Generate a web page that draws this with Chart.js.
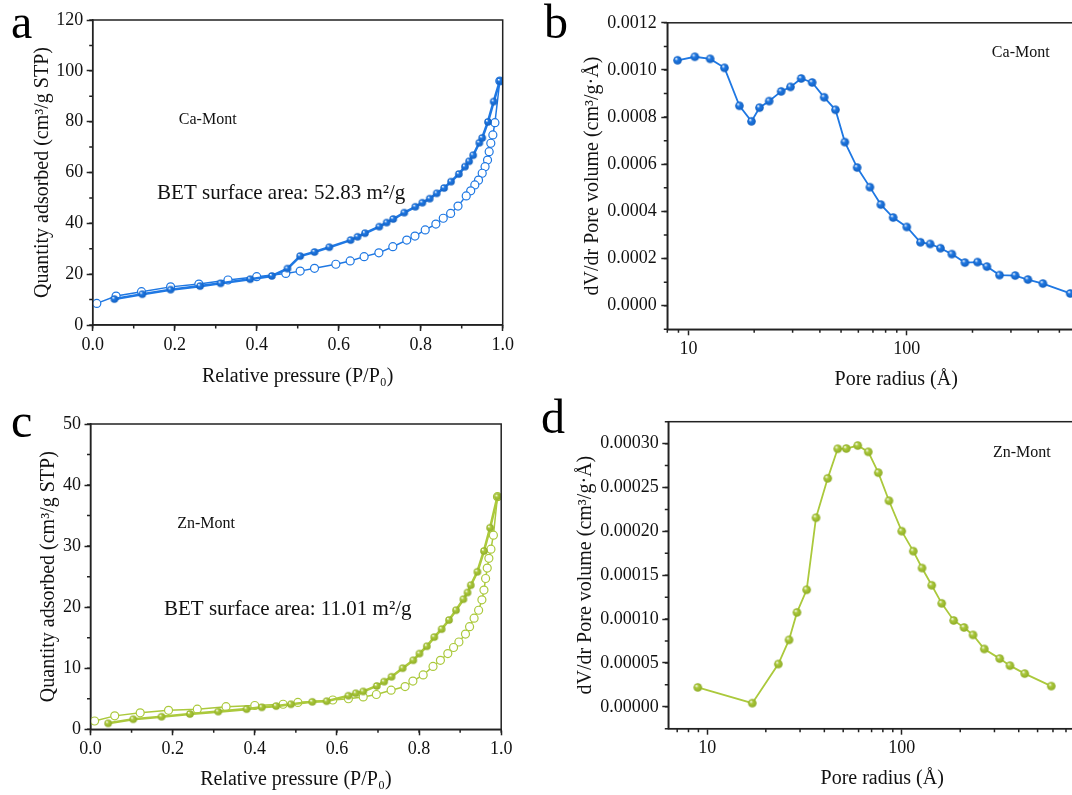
<!DOCTYPE html>
<html>
<head>
<meta charset="utf-8">
<script src="https://cdn.jsdelivr.net/npm/chart.js@4.4.1/dist/chart.umd.min.js"></script>
<style>
  html, body { margin: 0; padding: 0; background: #fff; width: 1072px; height: 795px; overflow: hidden; }
  canvas { position: absolute; }
  .tag { position: absolute; font-family: "Liberation Serif", serif; font-size: 48px; line-height: 1; color: #000; }
</style>
</head>
<body>
<canvas id="chartA" width="520" height="395" style="left:0;top:0"></canvas>
<canvas id="chartB" width="600" height="395" style="left:540px;top:0"></canvas>
<canvas id="chartC" width="520" height="395" style="left:0;top:400px"></canvas>
<canvas id="chartD" width="575" height="395" style="left:540px;top:400px"></canvas>
<div class="tag" style="left:11px;top:-2px">a</div>
<div class="tag" style="left:544px;top:-2px">b</div>
<div class="tag" style="left:11px;top:397px">c</div>
<div class="tag" style="left:541px;top:393px">d</div>
<script>
// --- данные ---

// a: Ca-Mont, изотерма (адсорбция / десорбция)
const caAdsP = [0.053, 0.121, 0.190, 0.262, 0.312, 0.384, 0.437, 0.475, 0.506, 0.541, 0.577, 0.629, 0.646, 0.664, 0.699, 0.717, 0.733, 0.760, 0.787, 0.804, 0.822, 0.839, 0.857, 0.874, 0.893, 0.908, 0.918, 0.928, 0.943, 0.950, 0.964, 0.978, 0.993];
const caAdsQ = [10.2, 12.1, 13.9, 15.3, 16.4, 18.0, 19.3, 22.2, 27.1, 28.7, 30.6, 33.4, 34.7, 36.1, 38.7, 40.3, 41.7, 44.2, 46.5, 48.1, 49.7, 51.8, 53.9, 56.4, 59.4, 62.3, 64.4, 66.8, 71.7, 73.6, 79.9, 87.9, 96.0];
const caDesP = [0.993, 0.981, 0.976, 0.971, 0.967, 0.963, 0.957, 0.950, 0.941, 0.932, 0.922, 0.911, 0.891, 0.873, 0.855, 0.837, 0.811, 0.786, 0.766, 0.732, 0.698, 0.662, 0.628, 0.593, 0.541, 0.506, 0.471, 0.400, 0.330, 0.259, 0.190, 0.119, 0.057, 0.010];
const caDesQ = [96.0, 79.6, 74.8, 71.5, 68.2, 64.9, 62.3, 59.7, 57.0, 55.1, 52.8, 50.8, 46.8, 43.9, 42.0, 39.7, 37.4, 35.0, 33.4, 30.8, 28.4, 26.9, 25.2, 23.9, 22.3, 21.2, 20.3, 19.0, 17.7, 16.1, 15.0, 13.1, 11.4, 8.5];

// b: Ca-Mont, распределение пор
const caRadius = [8.91, 10.70, 12.57, 14.62, 17.12, 19.44, 21.15, 23.43, 26.59, 29.33, 32.83, 36.87, 41.84, 47.14, 52.05, 59.27, 67.76, 76.08, 86.63, 100.0, 115.5, 128.0, 142.7, 160.9, 184.6, 210.9, 232.8, 265.9, 313.7, 358.7, 420.3, 560.6];
const caDvdr = [0.001041, 0.001056, 0.001047, 0.001009, 0.000848, 0.000782, 0.000840, 0.000868, 0.000909, 0.000928, 0.000964, 0.000947, 0.000884, 0.000831, 0.000694, 0.000586, 0.000503, 0.000429, 0.000374, 0.000334, 0.000269, 0.000262, 0.000244, 0.000219, 0.000183, 0.000185, 0.000166, 0.000130, 0.000128, 0.000111, 0.000094, 0.000052];

// c: Zn-Mont, изотерма
const znAdsP = [0.043, 0.104, 0.173, 0.242, 0.311, 0.380, 0.417, 0.452, 0.488, 0.540, 0.575, 0.628, 0.646, 0.664, 0.697, 0.715, 0.733, 0.760, 0.786, 0.801, 0.819, 0.837, 0.855, 0.873, 0.890, 0.908, 0.918, 0.926, 0.942, 0.958, 0.973, 0.991];
const znAdsQ = [0.98, 1.64, 2.06, 2.5, 2.9, 3.3, 3.6, 3.8, 4.1, 4.5, 4.6, 5.5, 5.9, 6.2, 7.1, 7.8, 8.6, 10.0, 11.3, 12.4, 13.6, 15.1, 16.4, 17.9, 19.5, 21.3, 22.4, 23.6, 25.8, 29.2, 33.0, 38.1];
const znDesP = [0.991, 0.981, 0.975, 0.970, 0.966, 0.962, 0.958, 0.953, 0.945, 0.934, 0.923, 0.913, 0.897, 0.884, 0.870, 0.852, 0.834, 0.810, 0.785, 0.766, 0.732, 0.696, 0.664, 0.628, 0.590, 0.505, 0.469, 0.400, 0.330, 0.260, 0.190, 0.121, 0.059, 0.010];
const znDesQ = [38.1, 31.8, 29.5, 28.0, 26.4, 24.7, 22.8, 21.2, 19.5, 18.2, 16.8, 15.6, 14.3, 13.4, 12.4, 11.3, 10.3, 8.9, 7.9, 7.0, 6.4, 5.7, 5.3, 5.0, 4.8, 4.4, 4.1, 3.9, 3.7, 3.3, 3.1, 2.7, 2.2, 1.36];

// d: Zn-Mont, распределение пор
const znRadius = [8.93, 17.04, 23.19, 26.32, 28.93, 32.45, 36.24, 41.63, 46.86, 51.88, 59.38, 67.33, 75.8, 86.0, 100, 114.7, 127.2, 142.7, 160.6, 185.1, 209.2, 232.7, 266, 319.3, 360.6, 429.2, 588.2];
const znDvdr = [2.21e-5, 4.1e-6, 4.87e-5, 7.62e-5, 1.076e-4, 1.334e-4, 2.155e-4, 2.604e-4, 2.941e-4, 2.944e-4, 2.978e-4, 2.906e-4, 2.669e-4, 2.349e-4, 2.002e-4, 1.774e-4, 1.582e-4, 1.385e-4, 1.179e-4, 9.84e-5, 9.04e-5, 8.19e-5, 6.59e-5, 5.49e-5, 4.69e-5, 3.78e-5, 2.36e-5];

// подписи осей
const pressureTicks = [0, 0.2, 0.4, 0.6, 0.8, 1.0];
const caQTicks = [0, 20, 40, 60, 80, 100, 120];
const znQTicks = [0, 10, 20, 30, 40, 50];
const radiusTicks = [10, 100, 1000];
const caDvTicks = [0, 0.0002, 0.0004, 0.0006, 0.0008, 0.0010, 0.0012];
const znDvTicks = [0, 0.00005, 0.00010, 0.00015, 0.00020, 0.00025, 0.00030];

const BLUE = '#1f78e3';
const BLUE_DARK = '#1360c0';
const GREEN = '#abc93c';
const GREEN_DARK = '#8eac25';
const FONT = '"Liberation Serif", "Times New Roman", serif';

// шарик с бликом, как маркеры в Origin
function sphere(color, dark, r) {
	const c = document.createElement('canvas');
	const d = Math.ceil(2 * r + 2);
	c.width = d; c.height = d;
	const g = c.getContext('2d');
	const m = d / 2;
	const grad = g.createRadialGradient(m - r * 0.35, m - r * 0.4, 0.2, m, m, r);
	grad.addColorStop(0, '#ffffff');
	grad.addColorStop(0.35, color);
	grad.addColorStop(1, dark);
	g.fillStyle = grad;
	g.beginPath();
	g.arc(m, m, r, 0, Math.PI * 2);
	g.fill();
	return c;
}

function series(xs, ys, color, marker, width) {
	const open = marker === 'open';
	return {
		data: xs.map((x, i) => ({ x: x, y: ys[i] })),
		borderColor: color,
		borderWidth: width,
		pointStyle: open ? 'circle' : marker,
		pointRadius: 4,
		pointBackgroundColor: '#fff',
		pointBorderColor: color,
		pointBorderWidth: 1.2,
		tension: 0,
		fill: false
	};
}

function axis(o) {
	return {
		type: o.type || 'linear',
		min: o.min,
		max: o.max,
		afterBuildTicks: s => { s.ticks = o.ticks.map(v => ({ value: v })); },
		afterFit: s => {
			if (s.isHorizontal()) s.height = o.size; else s.width = o.size;
			s.paddingLeft = s.paddingRight = s.paddingTop = s.paddingBottom = 0;
		},
		border: { display: true, color: '#222', width: 1.5 },
		grid: { display: true, drawOnChartArea: false, drawTicks: true, tickLength: 6, tickWidth: 1.5, tickColor: '#222' },
		ticks: { color: '#111', font: { family: FONT, size: 18 }, padding: o.pad, maxRotation: 0, autoSkip: false, callback: v => o.fmt(v) },
		title: { display: true, text: o.title, color: '#111', font: { family: FONT, size: 20 }, padding: o.tpad }
	};
}

// рамка, мелкие засечки и подписи внутри графика
function minorValues(scale, step) {
	const out = [];
	if (step === 'log') {
		for (let d = Math.floor(Math.log10(scale.min)); d <= Math.ceil(Math.log10(scale.max)); d++) {
			for (let k = 2; k <= 9; k++) {
				const v = k * Math.pow(10, d);
				if (v >= scale.min && v <= scale.max) out.push(v);
			}
		}
	} else {
		for (let i = Math.ceil(scale.min / step - 1e-9); i * step <= scale.max + 1e-12; i++) out.push(i * step);
	}
	return out;
}

const framePlugin = {
	id: 'frame',
	afterDraw(chart, args, opts) {
		const { ctx, chartArea: a, scales } = chart;
		const x = scales.x, y = scales.y;
		ctx.save();
		ctx.strokeStyle = '#222';
		ctx.lineWidth = 1.5;
		ctx.strokeRect(a.left, a.top, a.right - a.left, a.bottom - a.top);
		ctx.beginPath();
		minorValues(x, opts.minorX).forEach(v => {
			const px = x.getPixelForValue(v);
			ctx.moveTo(px, a.bottom); ctx.lineTo(px, a.bottom + 3.5);
		});
		minorValues(y, opts.minorY).forEach(v => {
			const py = y.getPixelForValue(v);
			ctx.moveTo(a.left, py); ctx.lineTo(a.left - 3.5, py);
		});
		ctx.stroke();
		ctx.fillStyle = '#111';
		ctx.textAlign = 'left';
		ctx.textBaseline = 'middle';
		(opts.notes || []).forEach(n => {
			ctx.font = n.size + 'px ' + FONT;
			ctx.fillText(n.text, x.getPixelForValue(n.x), y.getPixelForValue(n.y));
		});
		ctx.restore();
	}
};

function makeChart(id, datasets, xAxis, yAxis, pad, frame) {
	return new Chart(document.getElementById(id), {
		type: 'line',
		data: { datasets: datasets },
		options: {
			responsive: false,
			animation: false,
			devicePixelRatio: 1,
			events: [],
			layout: { padding: pad },
			scales: { x: xAxis, y: yAxis },
			plugins: { legend: { display: false }, tooltip: { enabled: false }, frame: frame }
		},
		plugins: [framePlugin]
	});
}

const blueBall = sphere(BLUE, BLUE_DARK, 3.8);
const greenBall = sphere(GREEN, GREEN_DARK, 3.8);
const blueBallB = sphere(BLUE, BLUE_DARK, 4.3);
const greenBallD = sphere(GREEN, GREEN_DARK, 4.3);

const fmt1 = v => v.toFixed(1);
const fmt0 = v => String(v);

// a
makeChart('chartA',
	[series(caAdsP, caAdsQ, BLUE, blueBall, 2.6), series(caDesP, caDesQ, BLUE, 'open', 1.5)],
	axis({ min: 0, max: 1, ticks: pressureTicks, fmt: fmt1, size: 70, pad: 3, title: 'Relative pressure (P/P₀)', tpad: { top: 0, bottom: 6.5 } }),
	axis({ min: 0, max: 120, ticks: caQTicks, fmt: fmt0, size: 92.7, pad: 3.5, title: 'Quantity adsorbed (cm³/g STP)', tpad: { top: 30.5, bottom: 0 } }),
	{ left: 0, top: 20, right: 17.3, bottom: 0 },
	{ minorX: 0.1, minorY: 10, notes: [
		{ text: 'Ca-Mont', x: 0.21, y: 80.7, size: 16 },
		{ text: 'BET surface area: 52.83 m²/g', x: 0.157, y: 51.9, size: 21 }
	] });

// b
makeChart('chartB',
	[series(caRadius, caDvdr, BLUE, blueBallB, 1.8)],
	axis({ type: 'logarithmic', min: 8, max: 1000, ticks: radiusTicks, fmt: fmt0, size: 65.7, pad: 3, title: 'Pore radius (Å)', tpad: { top: 0, bottom: 3 } }),
	axis({ min: -0.0001, max: 0.0012, ticks: caDvTicks, fmt: v => v.toFixed(4), size: 127.3, pad: 4.5, title: 'dV/dr Pore volume (cm³/g·Å)', tpad: { top: 40.5, bottom: 0 } }),
	{ left: 0, top: 22.8, right: 14.9, bottom: 0 },
	{ minorX: 'log', minorY: 0.0001, notes: [
		{ text: 'Ca-Mont', x: 245.3, y: 0.001073, size: 16 }
	] });

// c
makeChart('chartC',
	[series(znAdsP, znAdsQ, GREEN, greenBall, 2.6), series(znDesP, znDesQ, GREEN, 'open', 1.5)],
	axis({ min: 0, max: 1, ticks: pressureTicks, fmt: fmt1, size: 65.7, pad: 3, title: 'Relative pressure (P/P₀)', tpad: { top: 0, bottom: 3 } }),
	axis({ min: 0, max: 50, ticks: znQTicks, fmt: fmt0, size: 90.5, pad: 3.5, title: 'Quantity adsorbed (cm³/g STP)', tpad: { top: 37, bottom: 0 } }),
	{ left: 0, top: 24, right: 18.8, bottom: 0 },
	{ minorX: 0.1, minorY: 5, notes: [
		{ text: 'Zn-Mont', x: 0.211, y: 33.6, size: 16 },
		{ text: 'BET surface area: 11.01 m²/g', x: 0.179, y: 19.7, size: 21 }
	] });

// d
makeChart('chartD',
	[series(znRadius, znDvdr, GREEN, greenBallD, 1.8)],
	axis({ type: 'logarithmic', min: 6.3, max: 1000, ticks: radiusTicks, fmt: fmt0, size: 66.3, pad: 3, title: 'Pore radius (Å)', tpad: { top: 0, bottom: 4.7 } }),
	axis({ min: -0.000025, max: 0.000325, ticks: znDvTicks, fmt: v => v.toFixed(5), size: 128.3, pad: 3.5, title: 'dV/dr Pore volume (cm³/g·Å)', tpad: { top: 34, bottom: 0 } }),
	{ left: 0, top: 21.7, right: 18.9, bottom: 0 },
	{ minorX: 'log', minorY: 0.000025, notes: [
		{ text: 'Zn-Mont', x: 294.9, y: 0.0002898, size: 16 }
	] });
</script>
</body>
</html>
